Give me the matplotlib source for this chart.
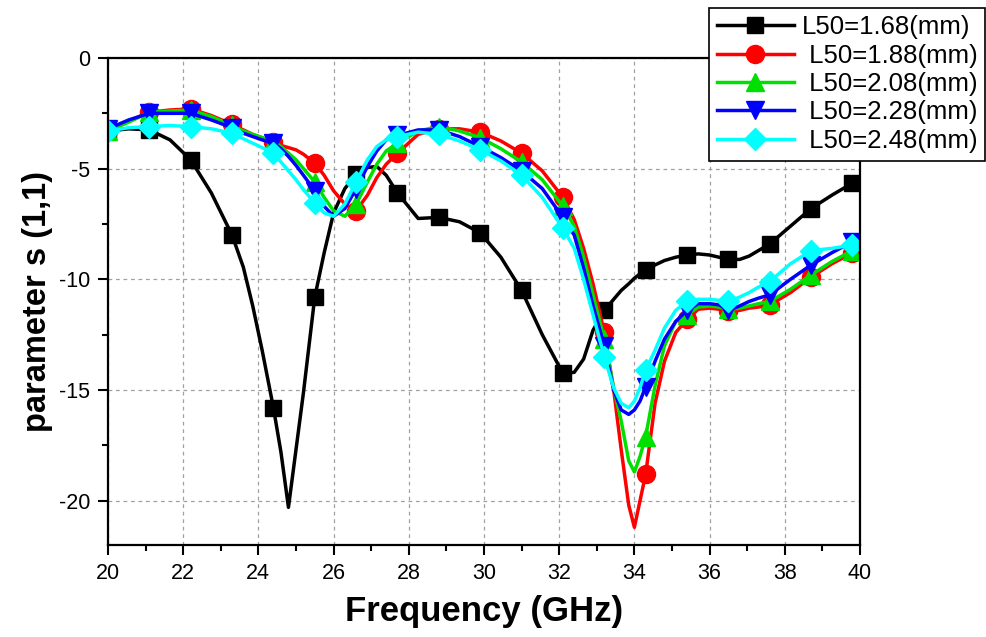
import numpy as np
import matplotlib
matplotlib.use("Agg")
import matplotlib.pyplot as plt

plt.rcParams["font.family"] = ["Liberation Sans", "DejaVu Sans"]
plt.rcParams["axes.unicode_minus"] = False

# frequency points of the traces (GHz)
freq = [20.0, 20.55, 21.1, 21.65, 22.2, 22.75, 23.3, 23.6, 23.85, 24.1,
        24.4, 24.6, 24.8, 25.0, 25.2, 25.5, 25.75, 26.0, 26.3, 26.6,
        26.9, 27.15, 27.4, 27.7, 28.25, 28.8, 29.35, 29.9, 30.45, 31.0,
        31.55, 32.1, 32.4, 32.65, 32.9, 33.2, 33.45, 33.65, 33.85, 34.0,
        34.15, 34.3, 34.55, 34.8, 35.1, 35.4, 35.7, 36.0, 36.25, 36.5,
        36.8, 37.05, 37.3, 37.6, 38.15, 38.7, 39.25, 39.8, 40.0]

# frequencies where the symbols sit
freq_marks = [20.0, 21.1, 22.2, 23.3, 24.4, 25.5, 26.6, 27.7, 28.8, 29.9,
              31.0, 32.1, 33.2, 34.3, 35.4, 36.5, 37.6, 38.7, 39.8]

s11_168 = [-3.3, -3.2, -3.25, -3.7, -4.6, -6.1, -8.0, -9.45, -11.2, -13.2,
           -15.8, -17.8, -20.3, -17.7, -15.1, -10.8, -8.8, -7.0, -5.9, -5.25,
           -4.95, -4.9, -5.3, -6.1, -7.25, -7.2, -7.4, -7.9, -9.0, -10.5,
           -12.5, -14.25, -14.2, -13.6, -12.3, -11.4, -10.9, -10.5, -10.2, -9.95,
           -9.75, -9.6, -9.35, -9.15, -9.0, -8.9, -8.85, -8.9, -9.0, -9.1,
           -9.1, -8.95, -8.7, -8.4, -7.6, -6.8, -6.2, -5.65, -5.5]

s11_188 = [-3.3, -2.85, -2.45, -2.35, -2.3, -2.6, -3.0, -3.25, -3.45, -3.6,
           -3.8, -3.95, -4.05, -4.15, -4.35, -4.75, -5.3, -6.0, -6.6, -6.9,
           -6.2, -5.4, -4.8, -4.3, -3.45, -3.2, -3.2, -3.35, -3.75, -4.3,
           -5.1, -6.3, -7.3, -8.6, -10.2, -12.4, -15.0, -17.7, -20.2, -21.2,
           -20.0, -18.8, -15.6, -13.7, -12.4, -11.8, -11.35, -11.3, -11.35, -11.45,
           -11.4, -11.3, -11.25, -11.15, -10.6, -9.9, -9.3, -8.8, -8.6]

s11_208 = [-3.3, -2.9, -2.45, -2.4, -2.35, -2.65, -3.05, -3.3, -3.45, -3.6,
           -3.8, -4.0, -4.3, -4.6, -5.0, -5.6, -6.3, -6.9, -7.15, -6.6,
           -5.6, -4.8, -4.2, -3.85, -3.3, -3.1, -3.3, -3.6, -4.1, -4.7,
           -5.5, -6.7, -7.6, -9.0, -10.7, -12.7, -14.9, -16.4, -18.2, -18.7,
           -18.0, -17.1, -14.8, -13.0, -11.9, -11.6, -11.25, -11.2, -11.25, -11.35,
           -11.3, -11.2, -11.1, -11.0, -10.45, -9.8, -9.2, -8.7, -8.55]

s11_228 = [-3.2, -2.8, -2.5, -2.5, -2.5, -2.8, -3.15, -3.4, -3.55, -3.7,
           -3.85, -4.1, -4.45, -4.85, -5.3, -6.0, -6.7, -7.15, -6.8, -5.9,
           -4.9, -4.2, -3.7, -3.5, -3.25, -3.25, -3.55, -4.0, -4.5, -5.1,
           -5.9, -7.2, -8.0, -9.5, -11.2, -13.0, -15.0, -15.9, -16.1, -15.9,
           -15.5, -14.85, -13.7, -12.7, -11.9, -11.4, -11.1, -11.1, -11.15, -11.4,
           -11.2, -11.0, -10.85, -10.7, -10.0, -9.35, -8.8, -8.3, -8.25]

s11_248 = [-3.3, -3.15, -3.1, -3.05, -3.1, -3.2, -3.4, -3.65, -3.85, -4.05,
           -4.3, -4.7, -5.1, -5.5, -5.95, -6.55, -7.0, -7.15, -6.6, -5.6,
           -4.6, -4.0, -3.7, -3.55, -3.35, -3.45, -3.75, -4.15, -4.65, -5.3,
           -6.3, -7.7, -8.6, -10.0, -11.6, -13.5, -14.9, -15.6, -15.8, -15.5,
           -14.9, -14.1, -13.2, -12.2, -11.4, -11.0, -10.9, -10.9, -10.95, -11.0,
           -10.8, -10.6, -10.35, -10.1, -9.3, -8.7, -8.6, -8.45, -8.4]

labels = ["L50=1.68(mm)", " L50=1.88(mm)", " L50=2.08(mm)",
          " L50=2.28(mm)", " L50=2.48(mm)"]
series = [s11_168, s11_188, s11_208, s11_228, s11_248]
colors = ["#000000", "#FF0000", "#00E000", "#0000FF", "#00FFFF"]
markers = ["s", "o", "^", "v", "D"]
msizes = [12, 13, 13, 13, 11]

mark_idx = [i for i, f in enumerate(freq)
            if np.any(np.isclose(f, freq_marks))]

fig = plt.figure(figsize=(9.86, 6.37), dpi=100)
ax = fig.add_axes([0.1095, 0.1444, 0.7627, 0.7646])

for y, lab, c, m, ms in zip(series, labels, colors, markers, msizes):
    ax.plot(freq, y, color=c, lw=2.5, marker=m, markersize=ms,
            markevery=mark_idx, label=lab)

ax.set_xlim(20, 40)
ax.set_ylim(-22, 0)
ax.set_xticks(np.arange(20, 41, 2))
ax.set_xticks(np.arange(21, 40, 2), minor=True)
ax.set_yticks([0, -5, -10, -15, -20])
ax.set_yticks([-2.5, -7.5, -12.5, -17.5], minor=True)
ax.grid(True, which="major", ls=(0, (3, 3)), color="#a0a0a0", lw=0.9)
ax.tick_params(which="major", direction="out", length=7, width=1.5,
               labelsize=15.5, pad=6)
ax.tick_params(which="minor", direction="out", length=4, width=1.5)
for sp in ax.spines.values():
    sp.set_linewidth(1.6)

ax.set_xlabel("Frequency (GHz)", fontsize=25, fontweight="bold", labelpad=8)
ax.set_ylabel("parameter s (1,1)", fontsize=23.5, fontweight="bold", labelpad=4)

leg = ax.legend(loc="upper right", bbox_to_anchor=(0.999, 0.988),
                bbox_transform=fig.transFigure, fontsize=18.5,
                frameon=True, fancybox=False, framealpha=1,
                edgecolor="black", handlelength=3.0, labelspacing=0.17,
                handletextpad=0.3, borderpad=0.3, borderaxespad=0)
leg.get_frame().set_linewidth(1.2)

fig.savefig("out.png", dpi=100)
